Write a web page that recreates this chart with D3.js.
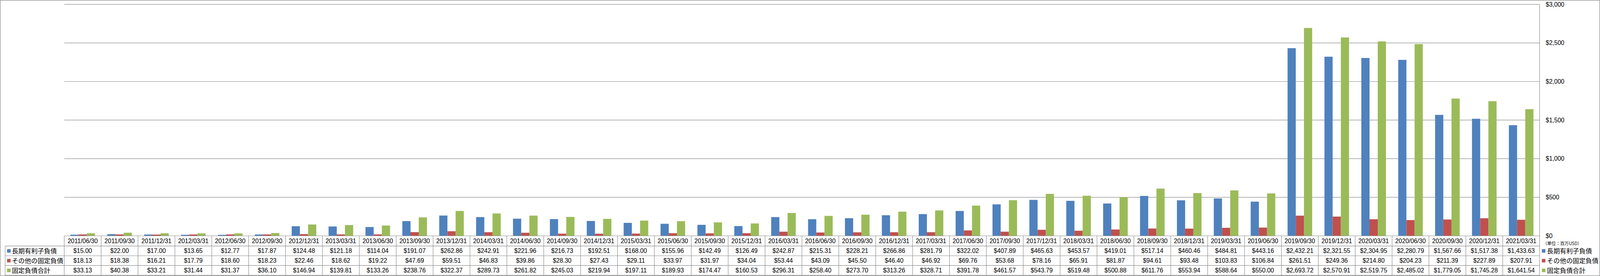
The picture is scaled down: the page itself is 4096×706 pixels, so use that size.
<!DOCTYPE html>
<html>
<head>
<meta charset="utf-8">
<script src="https://d3js.org/d3.v7.min.js"></script>
<style>
  body { margin: 0; background: #fff; }
  svg { display: block; }
</style>
</head>
<body>
<svg id="chart" width="4096" height="706" viewBox="0 0 4981 858"></svg>

<script>
// Data
const dates = ["2011/06/30","2011/09/30","2011/12/31","2012/03/31","2012/06/30","2012/09/30","2012/12/31",
  "2013/03/31","2013/06/30","2013/09/30","2013/12/31","2014/03/31","2014/06/30","2014/09/30","2014/12/31",
  "2015/03/31","2015/06/30","2015/09/30","2015/12/31","2016/03/31","2016/06/30","2016/09/30","2016/12/31",
  "2017/03/31","2017/06/30","2017/09/30","2017/12/31","2018/03/31","2018/06/30","2018/09/30","2018/12/31",
  "2019/03/31","2019/06/30","2019/09/30","2019/12/31","2020/03/31","2020/06/30","2020/09/30","2020/12/31",
  "2021/03/31"];

const longDebt = [15.00,22.00,17.00,13.65,12.77,17.87,124.48,121.18,114.04,191.07,262.86,242.91,221.96,216.73,
  192.51,168.00,155.96,142.49,126.49,242.87,215.31,228.21,266.86,281.79,322.02,407.89,465.63,453.57,419.01,
  517.14,460.46,484.81,443.16,2432.21,2321.55,2304.95,2280.79,1567.66,1517.38,1433.63];

const otherDebt = [18.13,18.38,16.21,17.79,18.60,18.23,22.46,18.62,19.22,47.69,59.51,46.83,39.86,28.30,
  27.43,29.11,33.97,31.97,34.04,53.44,43.09,45.50,46.40,46.92,69.76,53.68,78.16,65.91,81.87,
  94.61,93.48,103.83,106.84,261.51,249.36,214.80,204.23,211.39,227.89,207.91];

const totalDebt = [33.13,40.38,33.21,31.44,31.37,36.10,146.94,139.81,133.26,238.76,322.37,289.73,261.82,245.03,
  219.94,197.11,189.93,174.47,160.53,296.31,258.40,273.70,313.26,328.71,391.78,461.57,543.79,519.48,500.88,
  611.76,553.94,588.64,550.00,2693.72,2570.91,2519.75,2485.02,1779.05,1745.28,1641.54];

const seriesNames = ["長期有利子負債", "その他の固定負債", "固定負債合計"];
const yTicks = [0, 500, 1000, 1500, 2000, 2500, 3000];
const yTickLabels = ["$0", "$500", "$1,000", "$1,500", "$2,000", "$2,500", "$3,000"];
const unitLabel = "（単位：百万USD）";

// Layout (reference pixel units, the viewBox scales it down)
const W = 4981, H = 858;
const plotLeft = 200, plotRight = 4793, plotTop = 13.3, plotBottom = 733.3;
const tableLeft = 16, headerBottom = 765, tableBottom = 856;
const colors = ["#4F81BD", "#C0504D", "#9BBB59"];
const lineColor = "#8a8a8a";
const numFont = "'Liberation Sans', Arial, sans-serif";
const jpFont = "'Noto Sans CJK JP', sans-serif";

const series = seriesNames.map((name, i) => ({
  name: name,
  color: colors[i],
  values: [longDebt, otherDebt, totalDebt][i]
}));

const svg = d3.select("#chart");

// outer border
svg.append("rect")
  .attr("x", 0.75).attr("y", 0.75)
  .attr("width", W - 1.5).attr("height", H - 1.5)
  .attr("fill", "#fff")
  .attr("stroke", lineColor)
  .attr("stroke-width", 1.5);

// Scales
const x = d3.scaleBand()
  .domain(dates)
  .range([plotLeft, plotRight])
  .padding(0);

const xSub = d3.scaleBand()
  .domain(seriesNames)
  .range([0, x.bandwidth()])
  .paddingInner(0)
  .paddingOuter(0.75);

const y = d3.scaleLinear()
  .domain([0, 3000])
  .range([plotBottom, plotTop]);

const rowY = d3.scaleBand()
  .domain(seriesNames)
  .range([headerBottom, tableBottom]);

// Gridlines
svg.append("g")
  .selectAll("line")
  .data(yTicks.slice(1))
  .enter().append("line")
  .attr("x1", plotLeft).attr("x2", plotRight)
  .attr("y1", d => y(d)).attr("y2", d => y(d))
  .attr("stroke", lineColor)
  .attr("stroke-width", 1.4);

// Bars
const groups = svg.append("g")
  .selectAll("g")
  .data(series)
  .enter().append("g")
  .attr("fill", d => d.color);

groups.selectAll("rect")
  .data(s => s.values.map((v, i) => ({ s: s.name, date: dates[i], v: v })))
  .enter().append("rect")
  .attr("x", d => x(d.date) + xSub(d.s))
  .attr("width", xSub.bandwidth())
  .attr("y", d => y(d.v))
  .attr("height", d => y(0) - y(d.v));

// Right value axis
const yAxis = svg.append("g")
  .attr("transform", "translate(" + plotRight + ",0)")
  .call(d3.axisRight(y)
    .tickValues(yTicks)
    .tickFormat((d, i) => yTickLabels[i])
    .tickSize(0)
    .tickPadding(19));
yAxis.select(".domain").remove();
yAxis.selectAll("text")
  .attr("font-family", numFont)
  .attr("font-size", 19)
  .attr("fill", "#000");

svg.append("text")
  .attr("x", 4803)
  .attr("y", 757)
  .attr("dy", "0.35em")
  .attr("font-family", jpFont)
  .attr("font-size", 13.5)
  .text(unitLabel);

// Data table lines
const tbl = svg.append("g")
  .attr("stroke", lineColor)
  .attr("stroke-width", 1.4);

// axis line / top of header row
tbl.append("line")
  .attr("x1", plotLeft).attr("x2", plotRight)
  .attr("y1", plotBottom).attr("y2", plotBottom);
// value axis line on the right, down through the table
tbl.append("line")
  .attr("x1", plotRight).attr("x2", plotRight)
  .attr("y1", plotTop).attr("y2", tableBottom);
// row separators
tbl.selectAll(".hline")
  .data([headerBottom].concat(seriesNames.map(n => rowY(n) + rowY.bandwidth())))
  .enter().append("line")
  .attr("x1", tableLeft).attr("x2", plotRight)
  .attr("y1", d => d).attr("y2", d => d);
// left edge of the row header column
tbl.append("line")
  .attr("x1", tableLeft).attr("x2", tableLeft)
  .attr("y1", headerBottom).attr("y2", tableBottom);
// column separators
tbl.selectAll(".vline")
  .data(dates)
  .enter().append("line")
  .attr("x1", d => x(d)).attr("x2", d => x(d))
  .attr("y1", plotBottom).attr("y2", tableBottom);

// Header dates
svg.append("g")
  .selectAll("text")
  .data(dates)
  .enter().append("text")
  .attr("x", d => x(d) + x.bandwidth() / 2)
  .attr("y", (plotBottom + headerBottom) / 2)
  .attr("dy", "0.36em")
  .attr("text-anchor", "middle")
  .attr("font-family", numFont)
  .attr("font-size", 19)
  .text(d => d);

// Cell values
const fmt = d3.format("$,.2f");
series.forEach(s => {
  svg.append("g")
    .selectAll("text")
    .data(s.values)
    .enter().append("text")
    .attr("x", (d, i) => x(dates[i]) + x.bandwidth() / 2)
    .attr("y", rowY(s.name) + rowY.bandwidth() / 2)
    .attr("dy", "0.36em")
    .attr("text-anchor", "middle")
    .attr("font-family", numFont)
    .attr("font-size", 19)
    .text(d => fmt(d));
});

// Row headers (left) and legend (right)
[ { sq: 22, tx: 37 }, { sq: 4800, tx: 4816 } ].forEach(pos => {
  const g = svg.append("g")
    .selectAll("g")
    .data(series)
    .enter().append("g")
    .attr("transform", d => "translate(0," + (rowY(d.name) + rowY.bandwidth() / 2) + ")");
  g.append("rect")
    .attr("x", pos.sq).attr("y", -5.5)
    .attr("width", 11).attr("height", 11)
    .attr("fill", d => d.color);
  g.append("text")
    .attr("x", pos.tx)
    .attr("dy", "0.36em")
    .attr("font-family", jpFont)
    .attr("font-size", 20)
    .text(d => d.name);
});
</script>
</body>
</html>
